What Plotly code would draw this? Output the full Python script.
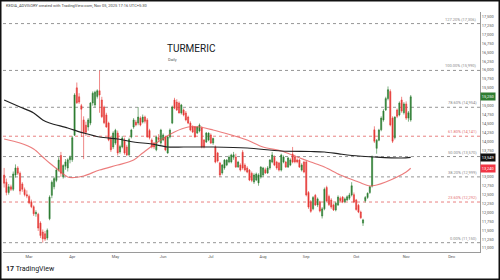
import pandas as pd
import plotly.graph_objects as go

# ---------------- data ----------------
holidays = ["2025-02-26", "2025-03-14", "2025-03-31", "2025-04-10", "2025-04-14",
            "2025-04-18", "2025-05-01", "2025-08-15", "2025-08-27", "2025-10-02"]
dates = [d.strftime("%Y-%m-%d") for d in pd.bdate_range("2025-02-13", "2025-11-05")
         if d.strftime("%Y-%m-%d") not in holidays]

opens = [
    # Feb
    13050, 12850, 12560, 12720, 12650, 13050, 13250, 13100, 12800, 12640, 12500,
    # Mar
    12450, 12300, 12160, 11960, 11950, 11700, 11450, 11400, 11280, 11820,
    12480, 12720, 12900, 13200, 13600, 13000, 13300, 13250, 13480,
    # Apr
    13480, 14170, 15500, 15250, 15000, 14600, 14450, 14400, 14510, 15075,
    15020, 15260, 15420, 15160, 14960, 14740, 14510, 14090, 13840,
    # May
    13950, 14230, 13700, 13840, 14035, 13840, 13620, 14120, 14400, 14540,
    14510, 14650, 14540, 14680, 14600, 14300, 14035, 13950, 13760, 14100, 13950,
    # Jun
    14035, 14120, 13670, 14120, 14510, 15160, 15100, 15075, 14795, 14880,
    14795, 14680, 14510, 14400, 14400, 14230, 14290, 14370, 14035, 13980, 14035,
    # Jul
    14175, 13950, 13840, 13670, 13390, 13110, 13250, 13330, 13415, 13420,
    13550, 13555, 13280, 13330, 13690, 13330, 13250, 13190, 13100, 12855,
    12910, 12830, 12995,
    # Aug
    13050, 13200, 13110, 13250, 13415, 13550, 13415, 13390, 13190, 13415,
    13415, 13275, 13330, 13640, 13555, 13475, 13475, 13190, 13415,
    # Sep
    13420, 12560, 12300, 12100, 12480, 12210, 12300, 11900, 12100, 12700,
    12450, 12350, 12210, 12070, 12210, 12400, 12430, 12300, 12350, 12400,
    12490, 12500,
    # Oct
    12350, 12200, 12010, 11700, 12330, 12420, 12560, 12740, 14320, 13800,
    14030, 14320, 14600, 14880, 15200, 15400, 14650, 14100, 14880, 14740,
    15160, 14800,
    # Nov
    15050, 14650, 14600,
]
highs = [
    13250, 12950, 12800, 12780, 13150, 13350, 13300, 13150, 12850, 12700, 12620,
    12500, 12360, 12200, 12060, 11990, 11750, 11520, 11480, 11550, 12480,
    12900, 13000, 13250, 13550, 13700, 13350, 13500, 13520, 13600,
    14150, 15350, 15650, 15350, 15050, 14700, 14550, 14650, 15100, 15400,
    15420, 15460, 15990, 15250, 15000, 14800, 14550, 14150, 14280,
    14350, 14300, 13900, 14150, 14100, 13900, 14100, 14350, 14650, 14600,
    14960, 14700, 14750, 14720, 14650, 14350, 14080, 13980, 14160, 14200, 14350,
    14220, 14150, 14150, 14360, 15000, 15220, 15180, 15120, 15050, 14920,
    14850, 14720, 14560, 14450, 14430, 14430, 14500, 14420, 14060, 14260, 14250,
    14220, 14100, 13880, 13700, 13420, 13360, 13500, 13500, 13600, 13650,
    13700, 13650, 13450, 13380, 13750, 13380, 13300, 13220, 13150, 13100,
    13120, 13100, 13300,
    13280, 13260, 13300, 13500, 13700, 13600, 13450, 13420, 13650, 13600,
    13450, 13560, 13520, 13840, 13620, 13520, 13500, 13380, 13450,
    13450, 12600, 12350, 12460, 12520, 12420, 12330, 12150, 12700, 12750,
    12500, 12400, 12250, 12300, 12480, 12450, 12460, 12420, 12480, 12550,
    12850, 12560,
    12380, 12240, 12050, 11820, 12460, 12560, 12750, 13600, 14420, 14060,
    14350, 14700, 14900, 15250, 15540, 15460, 14700, 14700, 14920, 15120,
    15250, 15100,
    15120, 14850, 15300,
]
lows = [
    12700, 12480, 12500, 12600, 12600, 12980, 13050, 12500, 12580, 12450, 12400,
    12230, 12120, 11900, 11880, 11480, 11280, 11150, 11200, 11220, 11780,
    12400, 12650, 12850, 13150, 13000, 12950, 13200, 13150, 13380,
    13420, 14150, 15050, 15050, 14120, 13500, 14150, 14300, 14450, 15000,
    14950, 15200, 14800, 14650, 14480, 14380, 14000, 13700, 13780,
    13900, 13600, 13650, 13800, 13620, 13580, 13580, 14080, 14350, 14420,
    14450, 14420, 14500, 14500, 14100, 14050, 13800, 13780, 13720, 13980, 13900,
    14000, 13720, 13650, 14080, 14480, 14900, 14850, 14780, 14750, 14700,
    14560, 14480, 14280, 14230, 14100, 14200, 14250, 13800, 13800, 13950, 14000,
    13920, 13900, 13380, 13400, 13000, 13060, 13200, 13300, 13380, 13380,
    13480, 13250, 13250, 13150, 13200, 13150, 13100, 12880, 12850, 12800,
    12880, 12750, 12950,
    13000, 13080, 13080, 13200, 13380, 13300, 13200, 13150, 13150, 13380,
    13250, 13250, 13300, 13380, 13380, 13380, 13250, 13150, 13100,
    12450, 12100, 11990, 12060, 12180, 12150, 12000, 11830, 12060, 12280,
    12180, 12100, 12040, 12030, 12180, 12300, 12260, 12260, 12320, 12350,
    12450, 12260,
    12050, 11980, 11820, 11620, 12280, 12380, 12520, 12700, 13950, 13650,
    14000, 14280, 14550, 14850, 15150, 14420, 13950, 14050, 14650, 14700,
    14800, 14750,
    14600, 14550, 14550,
]
closes = [
    12820, 12560, 12720, 12650, 13080, 13250, 13100, 12600, 12650, 12500, 12460,
    12270, 12160, 11960, 12000, 11560, 11350, 11260, 11250, 11500, 12430,
    12850, 12950, 13190, 13470, 13100, 13320, 13420, 13480, 13550,
    14100, 15300, 15080, 15100, 14900, 14230, 14250, 14600, 15075, 15350,
    15380, 15420, 15300, 14690, 14520, 14400, 14035, 13760, 14230,
    14310, 13670, 13850, 14090, 13670, 13615, 14050, 14315, 14600, 14460,
    14680, 14455, 14680, 14560, 14120, 14100, 13840, 13840, 14120, 14050, 14315,
    14175, 13755, 14120, 14315, 14960, 14930, 14880, 14795, 15020, 14740,
    14600, 14510, 14315, 14260, 14120, 14400, 14455, 13840, 13840, 14230, 14230,
    13950, 14080, 13415, 13445, 13050, 13330, 13470, 13470, 13555, 13615,
    13620, 13275, 13415, 13190, 13250, 13190, 13135, 12910, 12900, 13050,
    13080, 13050, 13275,
    13250, 13110, 13250, 13470, 13615, 13330, 13250, 13190, 13615, 13555,
    13275, 13530, 13475, 13415, 13420, 13420, 13275, 13330, 13135,
    12490, 12150, 12030, 12420, 12210, 12380, 12040, 12100, 12650, 12320,
    12220, 12150, 12070, 12260, 12430, 12330, 12290, 12380, 12440, 12490,
    12750, 12290,
    12080, 12010, 11850, 11790, 12420, 12540, 12720, 13560, 14000, 14030,
    14315, 14650, 14850, 15200, 15450, 14460, 14000, 14680, 14700, 15075,
    14850, 15050,
    14650, 14800, 15250,
]
assert len(opens) == len(highs) == len(lows) == len(closes) == len(dates)

sma50_dates = ["2025-02-13", "2025-02-24", "2025-03-05", "2025-03-11", "2025-03-17",
               "2025-03-24", "2025-03-27", "2025-04-02", "2025-04-08", "2025-04-22",
               "2025-05-05", "2025-05-14", "2025-05-20", "2025-05-28", "2025-06-09",
               "2025-06-17", "2025-06-24", "2025-07-02", "2025-07-14", "2025-07-23",
               "2025-08-01", "2025-08-13", "2025-08-25", "2025-09-03", "2025-09-11",
               "2025-09-22", "2025-10-03", "2025-10-10", "2025-10-15", "2025-10-21",
               "2025-10-28", "2025-11-03", "2025-11-05"]
sma50_values = [14063, 13950, 13782, 13557, 13389, 13136, 12995, 12981, 13023, 13192,
                13332, 13473, 13670, 13950, 14260, 14400, 14400, 14316, 14175, 14035,
                13838, 13726, 13557, 13417, 13276, 13051, 12855, 12742, 12770, 12855,
                12995, 13136, 13240]

sma200_dates = ["2025-02-13", "2025-02-24", "2025-03-05", "2025-03-11", "2025-03-17",
                "2025-03-27", "2025-04-08", "2025-04-22", "2025-05-05", "2025-05-14",
                "2025-05-26", "2025-06-04", "2025-06-13", "2025-06-24", "2025-07-02",
                "2025-07-23", "2025-08-13", "2025-09-03", "2025-09-11", "2025-09-22",
                "2025-10-03", "2025-10-14", "2025-10-30", "2025-11-05"]
sma200_values = [15159, 14962, 14794, 14597, 14513, 14372, 14232, 14119, 14063, 13979,
                 13922, 13838, 13838, 13838, 13838, 13810, 13726, 13712, 13698, 13641,
                 13585, 13557, 13529, 13549]

fib_low = 11150
fib_high = 15990
fib_ratios = [0.0, 0.236, 0.382, 0.5, 0.618, 0.786, 1.0, 1.272]

month_ticks = ["2025-03-03", "2025-04-01", "2025-05-02", "2025-06-02", "2025-07-01",
               "2025-08-01", "2025-09-01", "2025-10-01", "2025-11-03", "2025-12-01"]
month_labels = ["Mar", "Apr", "May", "Jun", "Jul", "Aug", "Sep", "Oct", "Nov", "Dec"]

price_ticks = list(range(11000, 17501, 250))
hidden_ticks = [15250, 13500, 13250]   # covered by the price tags in the reference
price_labels = ["" if v in hidden_ticks else f"{v:,}" for v in price_ticks]

last_close_label = "15,250"
sma200_label = "13,549"
sma50_label = "13,240"

# ---------------- figure ----------------
GREEN = "#2e7d32"
RED = "#e53935"
FONT = "Roboto"

fig = go.Figure()
fig.add_trace(go.Candlestick(
    x=dates, open=opens, high=highs, low=lows, close=closes,
    increasing=dict(line=dict(color=GREEN, width=0.6), fillcolor=GREEN),
    decreasing=dict(line=dict(color=RED, width=0.6), fillcolor=RED),
    whiskerwidth=0, hoverinfo="skip", showlegend=False))
fig.add_trace(go.Scatter(
    x=sma50_dates, y=sma50_values, mode="lines",
    line=dict(color="rgba(229,83,83,0.75)", width=1.2, shape="spline", smoothing=0.9),
    hoverinfo="skip", showlegend=False))
fig.add_trace(go.Scatter(
    x=sma200_dates, y=sma200_values, mode="lines",
    line=dict(color="#222222", width=1.2, shape="spline", smoothing=0.9),
    hoverinfo="skip", showlegend=False))

shapes = []
annotations = []
for r in fib_ratios:
    lvl = fib_low + r * (fib_high - fib_low)
    col = "#e57373" if r in (0.236, 0.618) else "#8a8a8a"
    shapes.append(dict(type="line", xref="paper", x0=0, x1=1, yref="y", y0=lvl, y1=lvl,
                       line=dict(color=col, width=0.9, dash="dot"), layer="below"))
    annotations.append(dict(xref="paper", x=0.997, xanchor="right", yref="y", y=lvl,
                            yanchor="bottom", yshift=0, showarrow=False,
                            text=f"{r * 100:.2f}% ({lvl:,.0f})",
                            font=dict(family=FONT, size=4, color=col)))

for val, txt, bg in [(closes[-1], last_close_label, GREEN),
                     (sma200_values[-1], sma200_label, "#111111"),
                     (sma50_values[-1], sma50_label, "#f23645")]:
    annotations.append(dict(xref="paper", x=1.0, xanchor="left", yref="y", y=val,
                            yanchor="middle", showarrow=False, text=txt,
                            bgcolor=bg, borderpad=0.8,
                            font=dict(family=FONT, size=4, color="white")))

annotations += [
    dict(xref="paper", yref="paper", x=0.339, y=0.85, xanchor="left", yanchor="middle",
         text="TURMERIC", showarrow=False, font=dict(family=FONT, size=10, color="#131722")),
    dict(xref="paper", yref="paper", x=0.342, y=0.80, xanchor="left", yanchor="middle",
         text="Daily", showarrow=False, font=dict(family=FONT, size=4, color="#555555")),
    dict(xref="paper", yref="paper", x=0.002, y=1.027, xanchor="left", yanchor="middle",
         text="KEDIA_ADVISORY created with TradingView.com, Nov 05, 2025 17:16 UTC+5:30",
         showarrow=False, font=dict(family=FONT, size=4, color="#444444")),
    dict(xref="paper", yref="paper", x=0.002, y=-0.071, xanchor="left", yanchor="middle",
         text="<b>17</b> TradingView", showarrow=False,
         font=dict(family=FONT, size=7, color="#131722")),
]

shapes.append(dict(type="rect", xref="paper", yref="paper",
                   x0=(0.75 - 3) / 477, x1=(499.25 - 3) / 477,
                   y0=(252 - 279.25) / 240, y1=(252 - 0.75) / 240,
                   line=dict(color="#111111", width=1.5)))

fig.update_layout(
    width=500, height=280,
    margin=dict(l=3, r=20, t=12, b=28),
    paper_bgcolor="white", plot_bgcolor="white",
    font=dict(family=FONT, size=4, color="#555555"),
    shapes=shapes, annotations=annotations,
    showlegend=False,
    xaxis=dict(
        type="date", range=["2025-02-12 12:00", "2025-12-17 12:00"],
        rangebreaks=[dict(bounds=["sat", "mon"]), dict(values=holidays)],
        tickvals=month_ticks, ticktext=month_labels, tickfont=dict(size=4, color="#555555"),
        showgrid=False, zeroline=False, showline=True, linecolor="#9a9a9a", linewidth=0.8,
        ticks="", rangeslider=dict(visible=False), fixedrange=True),
    yaxis=dict(
        side="right", range=[10888, 17632], tickvals=price_ticks, ticktext=price_labels,
        tickfont=dict(size=4, color="#555555"), showgrid=False, zeroline=False,
        showline=True, linecolor="#9a9a9a", linewidth=0.8, ticks="", fixedrange=True),
)

fig.write_html("out.html")
